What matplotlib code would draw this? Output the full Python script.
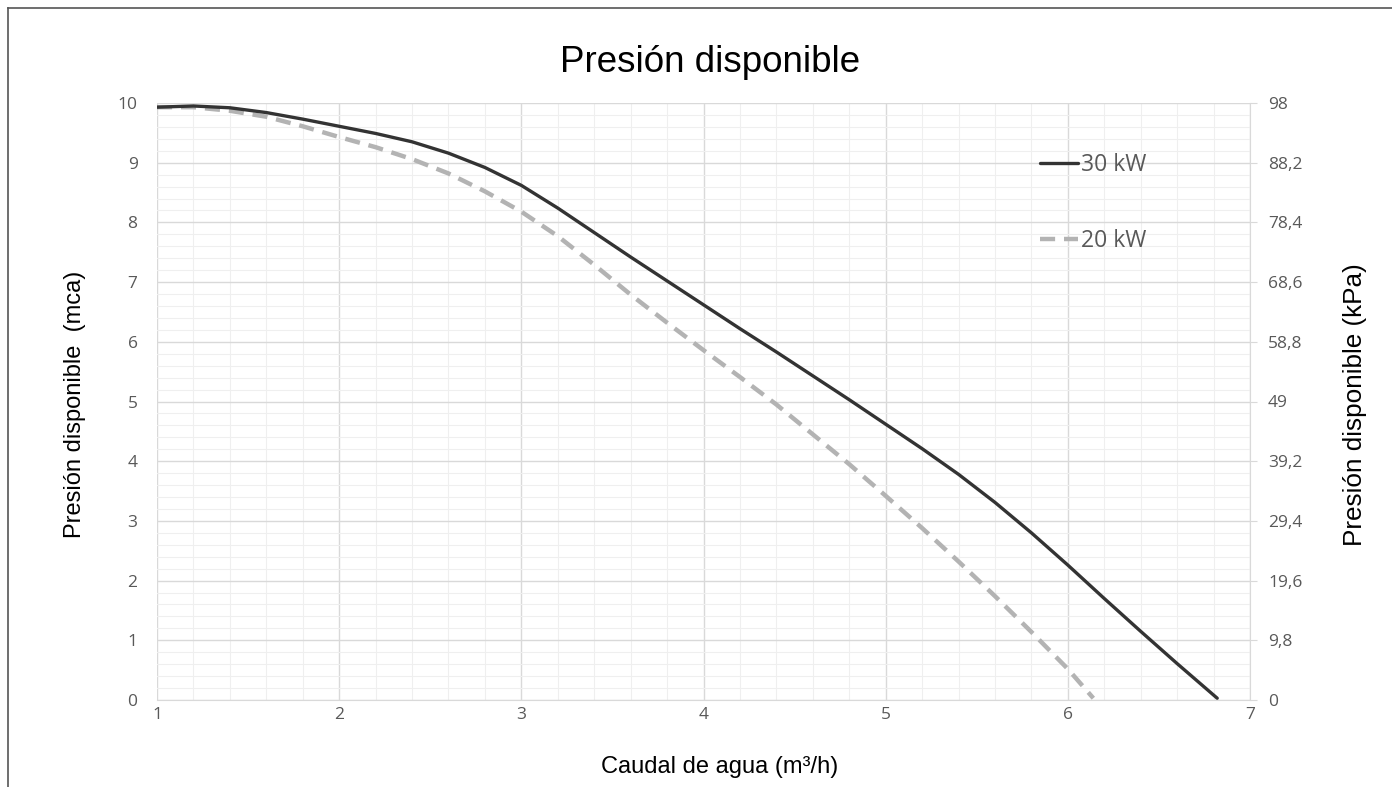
import matplotlib
matplotlib.use("Agg")
import matplotlib.pyplot as plt
from matplotlib.lines import Line2D
from matplotlib.ticker import MultipleLocator, FixedLocator

# ---- data ----
caudal_30 = [1.0, 1.2, 1.4, 1.6, 1.8, 2.0, 2.2, 2.4, 2.6, 2.8, 3.0, 3.2, 3.4, 3.6, 3.8,
             4.0, 4.2, 4.4, 4.6, 4.8, 5.0, 5.2, 5.4, 5.6, 5.8, 6.0, 6.2, 6.4, 6.6, 6.82]
presion_30 = [9.93, 9.95, 9.92, 9.84, 9.73, 9.61, 9.49, 9.35, 9.16, 8.92, 8.62, 8.24, 7.83,
              7.42, 7.02, 6.62, 6.22, 5.83, 5.43, 5.03, 4.62, 4.21, 3.78, 3.31, 2.80, 2.26,
              1.70, 1.15, 0.61, 0.03]

caudal_20 = [1.0, 1.2, 1.4, 1.6, 1.8, 2.0, 2.2, 2.4, 2.6, 2.8, 3.0, 3.2, 3.4, 3.6, 3.8,
             4.0, 4.2, 4.4, 4.6, 4.8, 5.0, 5.2, 5.4, 5.6, 5.8, 6.0, 6.14]
presion_20 = [9.93, 9.93, 9.87, 9.77, 9.61, 9.43, 9.26, 9.06, 8.82, 8.52, 8.18, 7.77, 7.29,
              6.79, 6.32, 5.86, 5.41, 4.95, 4.45, 3.95, 3.42, 2.88, 2.32, 1.74, 1.14, 0.52,
              0.03]

series_labels = ["30 kW", "20 kW"]
x_ticks = [1, 2, 3, 4, 5, 6, 7]
y_ticks = [0, 1, 2, 3, 4, 5, 6, 7, 8, 9, 10]
kpa_ticks = [0, 9.8, 19.6, 29.4, 39.2, 49, 58.8, 68.6, 78.4, 88.2, 98]
kpa_labels = ["0", "9,8", "19,6", "29,4", "39,2", "49", "58,8", "68,6", "78,4", "88,2", "98"]

W, H = 1392, 787
fig = plt.figure(figsize=(W / 100, H / 100), dpi=100)
ax = fig.add_axes([157 / W, 1 - 700 / H, (1250 - 157) / W, (700 - 103) / H])

tick_color = "#595959"
tick_font = "Open Sans"
tick_size = 12.5

ax.plot(caudal_30, presion_30, color="#333333", lw=2.4, solid_capstyle="round",
        solid_joinstyle="round", label=series_labels[0], zorder=4)
ax.plot(caudal_20, presion_20, color="#b3b3b3", lw=3.2, dashes=(3.4, 2.0),
        label=series_labels[1], zorder=3)

ax.set_xlim(1, 7)
ax.set_ylim(0, 10)
ax.xaxis.set_major_locator(FixedLocator(x_ticks))
ax.yaxis.set_major_locator(FixedLocator(y_ticks))
ax.xaxis.set_minor_locator(MultipleLocator(0.2))
ax.yaxis.set_minor_locator(MultipleLocator(0.2))
ax.grid(which="major", color="#d9d9d9", lw=1.0, zorder=1)
ax.grid(which="minor", color="#efefef", lw=0.8, zorder=0)
ax.set_axisbelow(True)

for s in ["top", "left", "right"]:
    ax.spines[s].set_visible(False)
ax.spines["bottom"].set_color("#d9d9d9")
ax.tick_params(which="both", length=0)
ax.tick_params(axis="x", pad=5, labelsize=tick_size, labelcolor=tick_color)
ax.tick_params(axis="y", pad=14, labelsize=tick_size, labelcolor=tick_color)
for lab in ax.get_xticklabels() + ax.get_yticklabels():
    lab.set_fontfamily(tick_font)

ax2 = ax.twinx()
ax2.set_ylim(0, 98)
ax2.yaxis.set_major_locator(FixedLocator(kpa_ticks))
ax2.set_yticklabels(kpa_labels)
ax2.yaxis.set_minor_locator(FixedLocator([]))
for s in ["top", "left", "bottom"]:
    ax2.spines[s].set_visible(False)
ax2.spines["right"].set_color("#d9d9d9")
ax2.tick_params(axis="y", length=5, color="#d9d9d9", pad=8, labelsize=tick_size,
                labelcolor=tick_color)
for lab in ax2.get_yticklabels():
    lab.set_fontfamily(tick_font)

lab_font = "Liberation Sans"
fig.text(710 / W, 1 - 63 / H, "Presión disponible", ha="center", va="center",
         fontsize=26.5, family=lab_font, color="black")
fig.text(720 / W, 1 - 767 / H, "Caudal de agua (m³/h)",
         ha="center", va="center", fontsize=17, family=lab_font, color="black")
fig.text(75 / W, 1 - 404 / H, "Presión disponible  (mca)", ha="center", va="center",
         rotation=90, fontsize=17, family=lab_font, color="black")
fig.text(1355 / W, 1 - 405 / H, "Presión disponible (kPa)", ha="center", va="center",
         rotation=90, fontsize=18.8, family=lab_font, color="black")

leg = ax.legend(loc="upper left", bbox_to_anchor=(1029 / W, 1 - 142 / H),
                bbox_transform=fig.transFigure, frameon=False, borderpad=0,
                handlelength=1.65, handletextpad=0.12, labelspacing=2.23,
                prop={"family": tick_font, "size": 16.5})
for t in leg.get_texts():
    t.set_color(tick_color)

# outer frame (left/top edges visible in reference)
fig.add_artist(Line2D([7.5 / W, 7.5 / W], [0, 1 - 8 / H], transform=fig.transFigure,
                      color="#555555", lw=1.2))
fig.add_artist(Line2D([7.5 / W, 1], [1 - 8 / H, 1 - 8 / H], transform=fig.transFigure,
                      color="#555555", lw=1.2))

fig.savefig("out.png", dpi=100, facecolor="white")
